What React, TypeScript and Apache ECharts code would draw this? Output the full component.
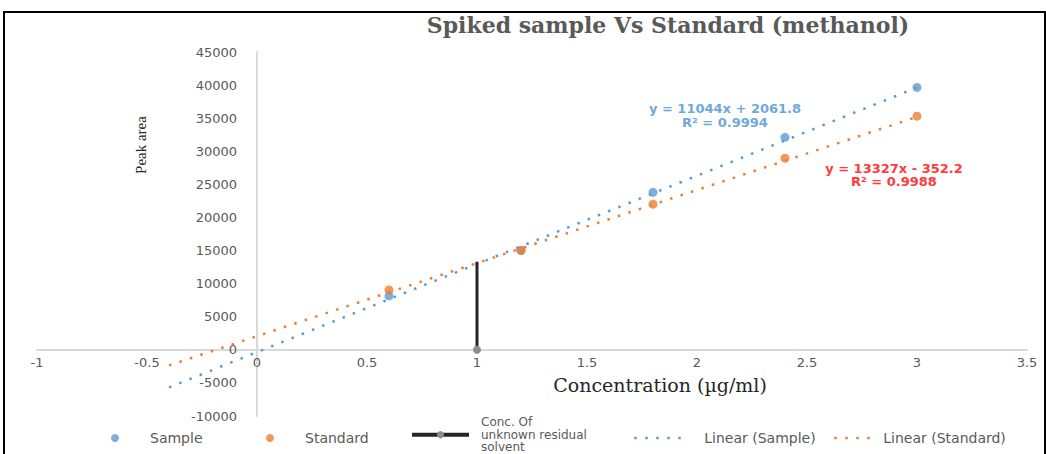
import React, { useEffect, useRef } from "react";
import * as echarts from "echarts";

// ---- data ----
const sampleX = [0.6, 1.2, 1.8, 2.4, 3.0];
const sampleY = [8150, 15000, 23800, 32100, 39650];
const standardX = [0.6, 1.2, 1.8, 2.4, 3.0];
const standardY = [9050, 15050, 22000, 28950, 35300];
// trendline end points (as drawn)
const sampleTrendX = [-0.4, 3.0];
const sampleTrendY = [-5683, 39629];
const standardTrendX = [-0.4, 3.0];
const standardTrendY = [-2356, 35194];
// concentration of unknown residual solvent (vertical drop line)
const concX = [1, 1];
const concY = [0, 13300];

const sampleEquation = ["y = 11044x + 2061.8", "R² = 0.9994"];
const standardEquation = ["y = 13327x - 352.2", "R² = 0.9988"];

const seriesNames = [
  "Sample",
  "Standard",
  "Conc. Of\nunknown residual\nsolvent",
  "Linear (Sample)",
  "Linear (Standard)",
];

const BLUE = "#5B9BD5";
const ORANGE = "#ED7D31";
const TICK_COLOR = "#595959";
const SANS = "'DejaVu Sans', sans-serif";
const SERIF = "'DejaVu Serif', serif";

const pairs = (xs: number[], ys: number[]) => xs.map((x, i) => [x, ys[i]]);

export default function App() {
  const ref = useRef<HTMLDivElement>(null);
  useEffect(() => {
    if (!ref.current) return;
    const chart = echarts.init(ref.current, undefined, { renderer: "svg" });
    const legendText = { color: TICK_COLOR, fontFamily: SANS, fontSize: 14 };
    chart.setOption({
      animation: false,
      backgroundColor: "#ffffff",
      title: {
        text: "Spiked sample Vs Standard (methanol)",
        left: 663,
        top: 9,
        textAlign: "center",
        textStyle: {
          color: TICK_COLOR,
          fontFamily: SERIF,
          fontSize: 22,
          fontWeight: "bold",
        },
      },
      grid: {
        left: 37,
        right: 19,
        top: 52,
        bottom: 38,
        containLabel: false,
        outerBoundsMode: "none",
      },
      xAxis: {
        type: "value",
        min: -1,
        max: 3.5,
        interval: 0.5,
        offset: -66,
        name: "Concentration (µg/ml)",
        nameLocation: "middle",
        nameGap: 25,
        nameTextStyle: {
          color: "#262626",
          fontFamily: SERIF,
          fontSize: 19,
          padding: [0, 0, 0, 256],
        },
        axisLine: { onZero: false, lineStyle: { color: "#D9D9D9", width: 2 } },
        axisTick: { show: false },
        splitLine: { show: false },
        axisLabel: {
          color: TICK_COLOR,
          fontFamily: SANS,
          fontSize: 13,
          margin: 6,
          formatter: (v: number) => String(v),
        },
      },
      yAxis: {
        type: "value",
        min: -10000,
        max: 45000,
        interval: 5000,
        offset: -220,
        name: "Peak area",
        nameLocation: "middle",
        nameGap: 109,
        nameTextStyle: {
          color: "#262626",
          fontFamily: "'Liberation Serif', serif",
          fontSize: 15,
          padding: [0, 0, 0, 178],
        },
        axisLine: { onZero: false, lineStyle: { color: "#D9D9D9", width: 2 } },
        axisTick: { show: false },
        splitLine: { show: false },
        axisLabel: {
          color: TICK_COLOR,
          fontFamily: SANS,
          fontSize: 13,
          margin: 20,
          formatter: (v: number) => String(v),
        },
      },
      legend: [
        {
          data: [seriesNames[0]],
          left: 106,
          top: 426,
          itemWidth: 60,
          itemHeight: 8,
          textStyle: legendText,
        },
        {
          data: [seriesNames[1]],
          left: 261,
          top: 426,
          itemWidth: 60,
          itemHeight: 8,
          textStyle: legendText,
        },
        {
          data: [seriesNames[2]],
          left: 405,
          top: 411,
          itemWidth: 57,
          itemHeight: 9,
          lineStyle: { width: 4 },
          textStyle: {
            ...legendText,
            fontSize: 12,
            lineHeight: 12.5,
            padding: [0, 0, 0, 7],
          },
        },
        {
          data: [seriesNames[3]],
          left: 628,
          top: 426,
          itemWidth: 54,
          itemHeight: 8,
          itemStyle: { opacity: 0 },
          lineStyle: { width: 2.5 },
          textStyle: { ...legendText, padding: [0, 0, 0, 11] },
        },
        {
          data: [seriesNames[4]],
          left: 828,
          top: 426,
          itemWidth: 44,
          itemHeight: 8,
          itemStyle: { opacity: 0 },
          lineStyle: { width: 2.5 },
          textStyle: legendText,
        },
      ],
      series: [
        {
          name: seriesNames[3],
          type: "line",
          data: pairs(sampleTrendX, sampleTrendY),
          symbol: "none",
          color: BLUE,
          lineStyle: { color: BLUE, width: 2.5, type: [2.5, 8.5], cap: "butt" },
          z: 2,
        },
        {
          name: seriesNames[4],
          type: "line",
          data: pairs(standardTrendX, standardTrendY),
          symbol: "none",
          color: ORANGE,
          lineStyle: { color: ORANGE, width: 2.5, type: [2.5, 8.5], cap: "butt" },
          z: 2,
        },
        {
          name: seriesNames[2],
          type: "line",
          data: pairs(concX, concY).map((p, i) => ({
            value: p,
            symbol: i === 0 ? "circle" : "none",
          })),
          symbol: "circle",
          symbolSize: 8,
          color: "#8C8C8C",
          itemStyle: { color: "#8C8C8C" },
          lineStyle: { color: "#262626", width: 3 },
          z: 3,
        },
        {
          name: seriesNames[0],
          type: "scatter",
          data: pairs(sampleX, sampleY),
          symbol: "circle",
          symbolSize: 9,
          itemStyle: { color: BLUE },
          z: 4,
        },
        {
          name: seriesNames[1],
          type: "scatter",
          data: pairs(standardX, standardY),
          symbol: "circle",
          symbolSize: 9,
          itemStyle: { color: ORANGE },
          z: 5,
        },
      ],
      graphic: [
        {
          type: "rect",
          shape: { x: 4, y: 12, width: 1041, height: 470 },
          style: { fill: "none", stroke: "#000000", lineWidth: 2 },
          silent: true,
          z: 100,
        },
        {
          type: "text",
          x: 725,
          y: 115,
          style: {
            text: sampleEquation.join("\n"),
            fill: "#6FA8DC",
            font: `bold 13px ${SANS}`,
            align: "center",
            verticalAlign: "middle",
            lineHeight: 14,
          },
          z: 50,
        },
        {
          type: "text",
          x: 894,
          y: 175,
          style: {
            text: standardEquation.join("\n"),
            fill: "#FF3B3B",
            font: `bold 13px ${SANS}`,
            align: "center",
            verticalAlign: "middle",
            lineHeight: 13,
          },
          z: 50,
        },
      ],
    });
    return () => chart.dispose();
  }, []);
  return (
    <div
      ref={ref}
      style={{ position: "absolute", left: 0, top: 0, width: 1046, height: 454 }}
    />
  );
}
